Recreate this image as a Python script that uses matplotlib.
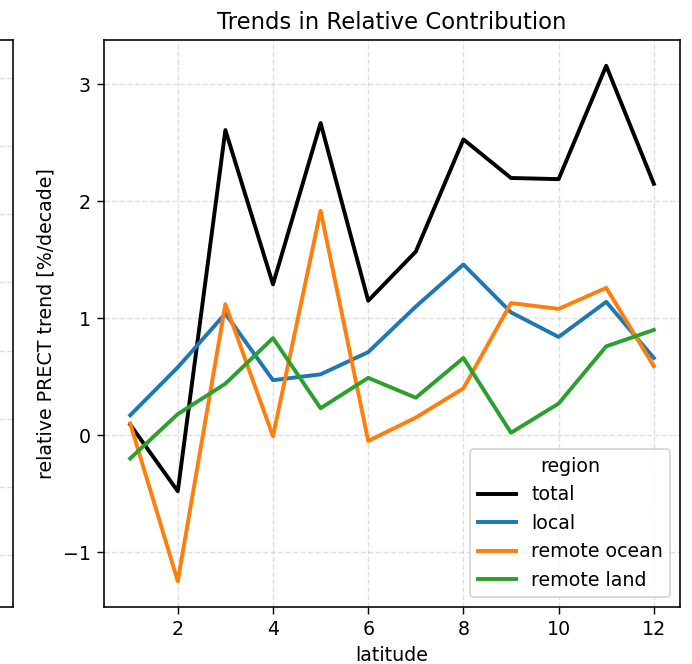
import matplotlib
matplotlib.use("Agg")
import matplotlib.pyplot as plt
import numpy as np

# data
latitude = np.arange(1, 13)
total = [0.09, -0.48, 2.61, 1.29, 2.67, 1.15, 1.57, 2.53, 2.20, 2.19, 3.16, 2.15]
local = [0.17, 0.58, 1.04, 0.47, 0.52, 0.71, 1.10, 1.46, 1.05, 0.84, 1.14, 0.66]
remote_ocean = [0.10, -1.25, 1.12, -0.01, 1.92, -0.05, 0.15, 0.40, 1.13, 1.08, 1.26, 0.59]
remote_land = [-0.20, 0.18, 0.44, 0.83, 0.23, 0.49, 0.32, 0.66, 0.02, 0.27, 0.76, 0.90]

series = [
    ("total", total, "black"),
    ("local", local, "tab:blue"),
    ("remote ocean", remote_ocean, "tab:orange"),
    ("remote land", remote_land, "tab:green"),
]

plt.rcParams["font.size"] = 10.7
plt.rcParams["axes.linewidth"] = 0.9
plt.rcParams["xtick.major.size"] = 3.8
plt.rcParams["ytick.major.size"] = 3.8

dpi = 128
fig = plt.figure(figsize=(692 / dpi, 664 / dpi), dpi=dpi)

# main axes
ax = fig.add_axes([104 / 692, 57 / 664, 576 / 692, 567 / 664])
for name, vals, color in series:
    ax.plot(latitude, vals, label=name, color=color, linewidth=2.2)

ax.set_title("Trends in Relative Contribution", fontsize=12.8)
ax.set_xlabel("latitude")
ax.set_ylabel("relative PRECT trend [%/decade]")
ax.grid(True, linestyle="--", alpha=0.4)
ax.legend(title="region", loc="lower right")

# neighbouring panel, only its right edge is in view
ax0 = fig.add_axes([(13 - 576) / 692, 57 / 664, 576 / 692, 567 / 664])
ax0.set_ylim(-0.765, 7.56)
ax0.set_yticks(range(8))
ax0.set_xticks([])
ax0.tick_params(labelleft=False)
ax0.grid(True, linestyle="--", alpha=0.4)

fig.savefig("out.png", dpi=dpi)
